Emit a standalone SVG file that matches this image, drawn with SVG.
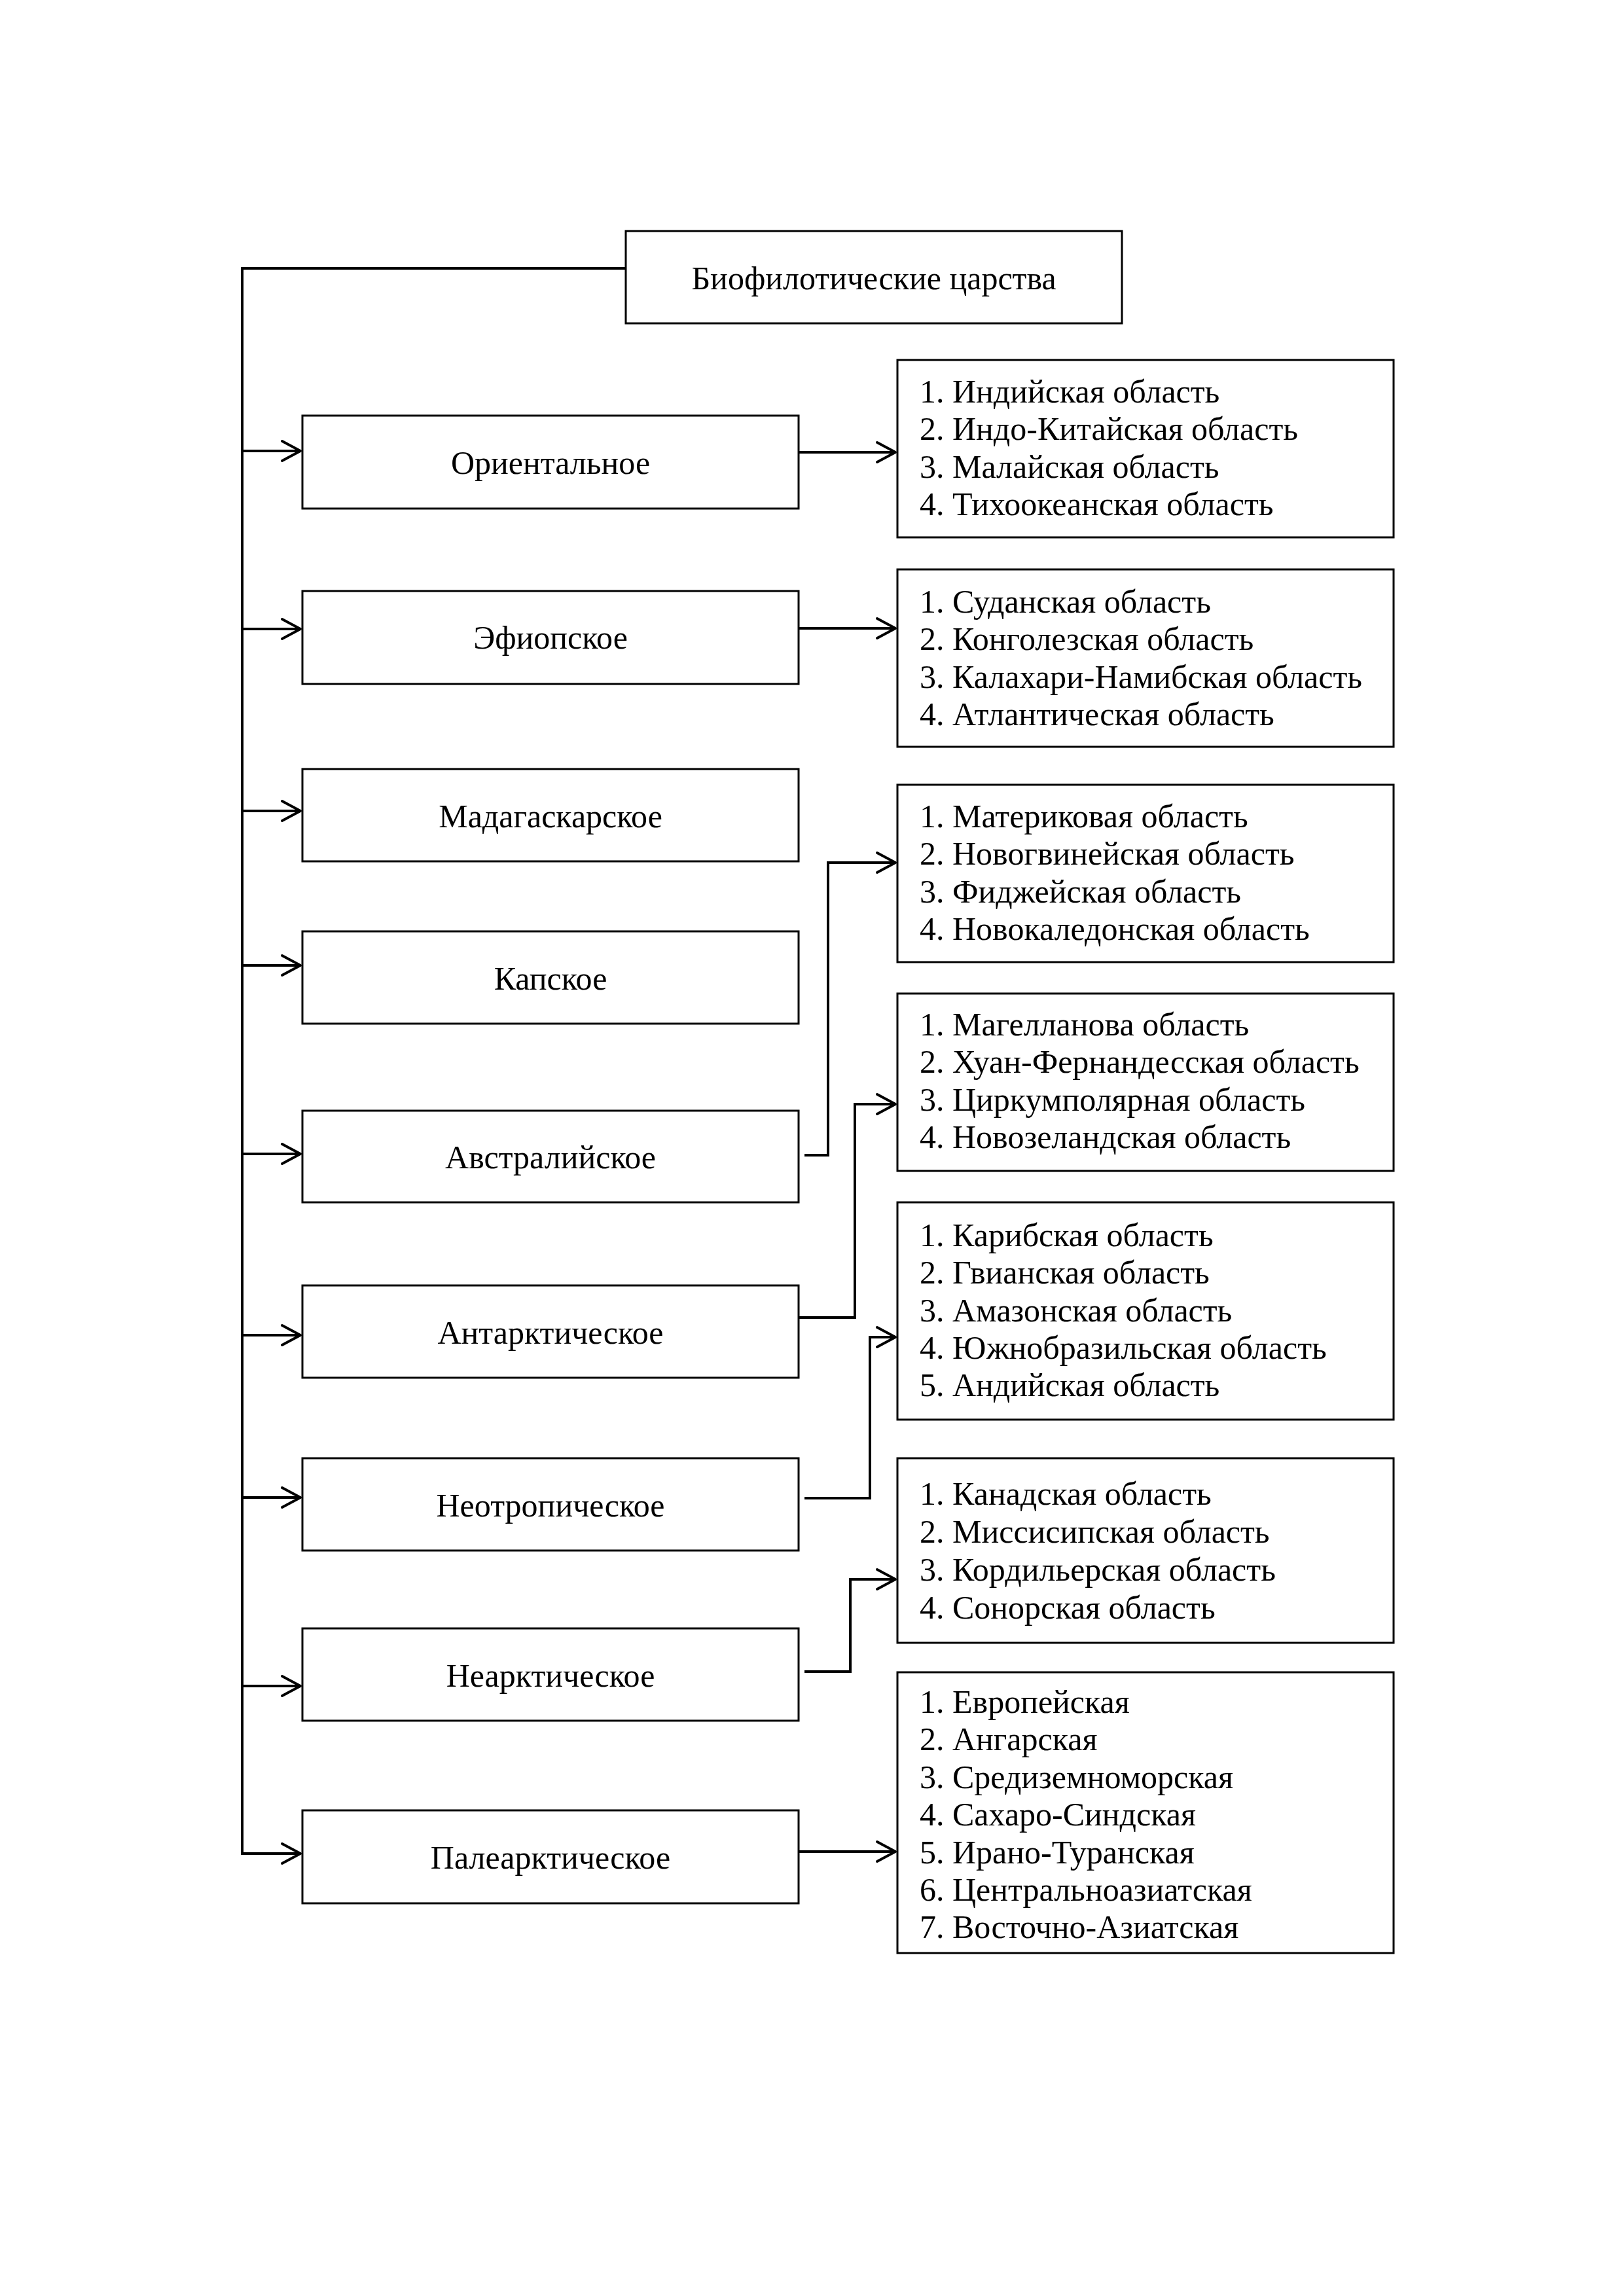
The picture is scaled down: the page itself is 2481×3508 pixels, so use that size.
<svg xmlns="http://www.w3.org/2000/svg" width="2481" height="3508" viewBox="0 0 2481 3508">
<style>
.box{fill:#fff;stroke:#000;stroke-width:3}
.con{fill:none;stroke:#000;stroke-width:4;stroke-linejoin:miter}
.t{font-family:"Liberation Serif","Times New Roman",serif;font-size:50px;fill:#000}
.c{text-anchor:middle}
</style>
<defs>
<marker id="arr" markerUnits="userSpaceOnUse" viewBox="-34 -20 38 40" markerWidth="38" markerHeight="40" refX="0" refY="0" orient="auto">
<path d="M-28,-15 L0,0 L-28,15" fill="none" stroke="#000" stroke-width="4" stroke-linecap="round" stroke-linejoin="round"/>
</marker>
</defs>
<rect width="2481" height="3508" fill="#fff"/>
<g id="connectors" class="con">
<path d="M956,410 H370 V2832 H459" marker-end="url(#arr)"/>
<path d="M370,689 H459" marker-end="url(#arr)"/>
<path d="M370,961 H459" marker-end="url(#arr)"/>
<path d="M370,1239 H459" marker-end="url(#arr)"/>
<path d="M370,1475 H459" marker-end="url(#arr)"/>
<path d="M370,1763 H459" marker-end="url(#arr)"/>
<path d="M370,2040 H459" marker-end="url(#arr)"/>
<path d="M370,2288 H459" marker-end="url(#arr)"/>
<path d="M370,2576 H459" marker-end="url(#arr)"/>
<path d="M1220,691 H1368" marker-end="url(#arr)"/>
<path d="M1220,960 H1368" marker-end="url(#arr)"/>
<path d="M1229,1765 H1265 V1318 H1368" marker-end="url(#arr)"/>
<path d="M1221,2013 H1306 V1687 H1368" marker-end="url(#arr)"/>
<path d="M1229,2289 H1329 V2043 H1368" marker-end="url(#arr)"/>
<path d="M1229,2554 H1299 V2413 H1368" marker-end="url(#arr)"/>
<path d="M1220,2829 H1368" marker-end="url(#arr)"/>
</g>
<g id="root"><rect class="box" x="956" y="353" width="758" height="141"/><text class="t c" x="1335" y="442">Биофилотические царства</text></g>
<g id="k1"><rect class="box" x="462" y="635" width="758" height="142"/><text class="t c" x="841" y="724">Ориентальное</text></g>
<g id="k2"><rect class="box" x="462" y="903" width="758" height="142"/><text class="t c" x="841" y="991">Эфиопское</text></g>
<g id="k3"><rect class="box" x="462" y="1175" width="758" height="141"/><text class="t c" x="841" y="1264">Мадагаскарское</text></g>
<g id="k4"><rect class="box" x="462" y="1423" width="758" height="141"/><text class="t c" x="841" y="1512">Капское</text></g>
<g id="k5"><rect class="box" x="462" y="1697" width="758" height="140"/><text class="t c" x="841" y="1785">Австралийское</text></g>
<g id="k6"><rect class="box" x="462" y="1964" width="758" height="141"/><text class="t c" x="841" y="2053">Антарктическое</text></g>
<g id="k7"><rect class="box" x="462" y="2228" width="758" height="141"/><text class="t c" x="841" y="2317">Неотропическое</text></g>
<g id="k8"><rect class="box" x="462" y="2488" width="758" height="141"/><text class="t c" x="841" y="2577">Неарктическое</text></g>
<g id="k9"><rect class="box" x="462" y="2766" width="758" height="142"/><text class="t c" x="841" y="2855">Палеарктическое</text></g>
<g id="l1"><rect class="box" x="1371" y="550" width="758" height="271"/>
<text class="t" x="1405" y="615">1. Индийская область</text>
<text class="t" x="1405" y="672">2. Индо-Китайская область</text>
<text class="t" x="1405" y="730">3. Малайская область</text>
<text class="t" x="1405" y="787">4. Тихоокеанская область</text></g>
<g id="l2"><rect class="box" x="1371" y="870" width="758" height="271"/>
<text class="t" x="1405" y="936">1. Суданская область</text>
<text class="t" x="1405" y="993">2. Конголезская область</text>
<text class="t" x="1405" y="1051">3. Калахари-Намибская область</text>
<text class="t" x="1405" y="1108">4. Атлантическая область</text></g>
<g id="l3"><rect class="box" x="1371" y="1199" width="758" height="271"/>
<text class="t" x="1405" y="1264">1. Материковая область</text>
<text class="t" x="1405" y="1321">2. Новогвинейская область</text>
<text class="t" x="1405" y="1379">3. Фиджейская область</text>
<text class="t" x="1405" y="1436">4. Новокаледонская область</text></g>
<g id="l4"><rect class="box" x="1371" y="1518" width="758" height="271"/>
<text class="t" x="1405" y="1582">1. Магелланова область</text>
<text class="t" x="1405" y="1639">2. Хуан-Фернандесская область</text>
<text class="t" x="1405" y="1697">3. Циркумполярная область</text>
<text class="t" x="1405" y="1754">4. Новозеландская область</text></g>
<g id="l5"><rect class="box" x="1371" y="1837" width="758" height="332"/>
<text class="t" x="1405" y="1904">1. Карибская область</text>
<text class="t" x="1405" y="1961">2. Гвианская область</text>
<text class="t" x="1405" y="2019">3. Амазонская область</text>
<text class="t" x="1405" y="2076">4. Южнобразильская область</text>
<text class="t" x="1405" y="2133">5. Андийская область</text></g>
<g id="l6"><rect class="box" x="1371" y="2228" width="758" height="282"/>
<text class="t" x="1405" y="2299">1. Канадская область</text>
<text class="t" x="1405" y="2357">2. Миссисипская область</text>
<text class="t" x="1405" y="2415">3. Кордильерская область</text>
<text class="t" x="1405" y="2473">4. Сонорская область</text></g>
<g id="l7"><rect class="box" x="1371" y="2555" width="758" height="429"/>
<text class="t" x="1405" y="2617">1. Европейская</text>
<text class="t" x="1405" y="2674">2. Ангарская</text>
<text class="t" x="1405" y="2732">3. Средиземноморская</text>
<text class="t" x="1405" y="2789">4. Сахаро-Синдская</text>
<text class="t" x="1405" y="2847">5. Ирано-Туранская</text>
<text class="t" x="1405" y="2904">6. Центральноазиатская</text>
<text class="t" x="1405" y="2961">7. Восточно-Азиатская</text></g>
</svg>
